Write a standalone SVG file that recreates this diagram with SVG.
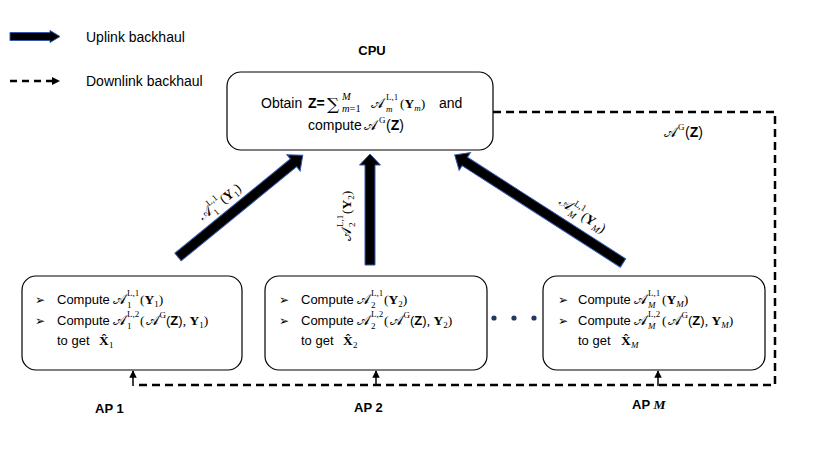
<svg xmlns="http://www.w3.org/2000/svg" width="830" height="467" viewBox="0 0 830 467">
<defs>
<style>
.s{font-family:"Liberation Sans",Arial,sans-serif;font-size:13px;fill:#000}
.c{font-size:14px}
.b{font-weight:bold}
.m{font-family:"Liberation Serif","DejaVu Serif",serif;font-size:13.5px;fill:#000}
.sc{font-family:"DejaVu Serif","DejaVu Sans","Noto Sans",serif;font-size:14px;fill:#000}
.sm{font-size:9px}
.lim{font-size:10.5px}
.i{font-style:italic}
.box{fill:#fff;stroke:#000;stroke-width:1.2}
.thick{fill:#000;stroke:#3558b0;stroke-width:1}
.dash{fill:none;stroke:#000;stroke-width:2.5;stroke-dasharray:8 5}
.up{stroke:#000;stroke-width:1.5;fill:none;marker-end:url(#tri)}
.bul{font-family:"DejaVu Sans",sans-serif;font-size:12px;fill:#000}
.lbl{font-family:"Liberation Sans",Arial,sans-serif;font-size:13px;font-weight:bold;fill:#000}
</style>
<marker id="tri" viewBox="0 0 10 10" refX="9" refY="5" markerWidth="5" markerHeight="5" orient="auto" markerUnits="strokeWidth">
<path d="M0,0 L10,5 L0,10 z" fill="#000"/>
</marker>
</defs>
<rect width="830" height="467" fill="#fff"/>

<g id="legend">
<polygon class="thick" points="10,32.5 50,32.5 50,30.5 60,36.5 50,42.5 50,40.5 10,40.5"/>
<text class="s c" x="86" y="42">Uplink backhaul</text>
<line x1="10" y1="81" x2="52" y2="81" stroke="#000" stroke-width="2.5" stroke-dasharray="7 5"/>
<polygon points="52,77 60,81 52,85" fill="#000"/>
<text class="s c" x="86" y="86">Downlink backhaul</text>
</g>

<g id="connectors">
<path class="dash" d="M493,112 H775 V385 H135"/>
<line class="up" x1="133" y1="386" x2="133" y2="371"/>
<line class="up" x1="376" y1="386" x2="376" y2="371"/>
<line class="up" x1="658" y1="386" x2="658" y2="371"/>
<polygon class="thick" transform="translate(178,257) rotate(-39.2)" points="0,-5 149,-5 149,-10.5 161,0 149,10.5 149,5 0,5"/>
<polygon class="thick" transform="translate(370,265) rotate(-90)" points="0,-5 100,-5 100,-10.5 111,0 100,10.5 100,5 0,5"/>
<polygon class="thick" transform="translate(623,263) rotate(-147.3)" points="0,-5 188,-5 188,-10.5 200,0 188,10.5 188,5 0,5"/>
<g id="label-up1" transform="translate(223,200) rotate(-39.2)">
<text class="sc" x="-29" y="4">𝒜</text>
<text class="m sm" x="-15" y="-4">L,1</text>
<text class="m sm" x="-15" y="8">1</text>
<text class="m" x="-2" y="4">(<tspan class="b">Y</tspan><tspan class="sm" dy="3">1</tspan><tspan dy="-3">)</tspan></text>
</g>
<g id="label-up2" transform="translate(351,212) rotate(-90)">
<text class="sc" x="-29" y="0">𝒜</text>
<text class="m sm" x="-15" y="-8">L,1</text>
<text class="m sm" x="-15" y="4">2</text>
<text class="m" x="-2" y="0">(<tspan class="b">Y</tspan><tspan class="sm" dy="3">2</tspan><tspan dy="-3">)</tspan></text>
</g>
<g id="label-upM" transform="translate(582,220) rotate(32.7)">
<text class="sc" x="-29" y="0">𝒜</text>
<text class="m sm" x="-15" y="-8">L,1</text>
<text class="m sm i" x="-15" y="4">M</text>
<text class="m" x="-2" y="0">(<tspan class="b">Y</tspan><tspan class="sm i" dy="3">M</tspan><tspan dy="-3">)</tspan></text>
</g>
<g id="label-down">
<text class="sc" x="664" y="137">𝒜</text>
<text class="m sm" x="678" y="130">G</text>
<text class="s c" x="685" y="137">(<tspan class="b">Z</tspan>)</text>
</g>
</g>

<g id="cpu">
<text class="lbl" x="372" y="55" text-anchor="middle">CPU</text>
<rect class="box" x="227" y="72" width="266" height="78" rx="14"/>
<text class="s c" x="261" y="108">Obtain</text>
<text class="s c b" x="308" y="108">Z=</text>
<text x="327" y="110" font-family="DejaVu Serif,serif" font-size="17">∑</text>
<text class="m lim i" x="342" y="100">M</text>
<text class="m lim" x="342" y="112"><tspan class="i">m</tspan>=1</text>
<text class="sc" x="371" y="108">𝒜</text>
<text class="m sm" x="386" y="100">L,1</text>
<text class="m sm i" x="386" y="112">m</text>
<text class="m" x="400" y="108">(<tspan class="b">Y</tspan><tspan class="sm i" dy="3">m</tspan><tspan dy="-3">)</tspan></text>
<text class="s c" x="439" y="108">and</text>
<text class="s c" x="308" y="130">compute</text>
<text class="sc" x="364" y="130">𝒜</text>
<text class="m sm" x="379" y="123">G</text>
<text class="s c" x="386" y="130">(<tspan class="b">Z</tspan>)</text>
</g>

<g id="ap1">
<rect class="box" x="22" y="276" width="220" height="94" rx="14"/>
<text class="bul" x="35" y="304">➢</text>
<text class="s" x="57" y="304">Compute</text>
<text class="sc" x="113" y="304">𝒜</text>
<text class="m sm" x="127" y="296">L,1</text>
<text class="m sm" x="127" y="308">1</text>
<text class="m" x="140" y="304">(<tspan class="b">Y</tspan><tspan class="sm" dy="3">1</tspan><tspan dy="-3">)</tspan></text>
<text class="bul" x="35" y="325">➢</text>
<text class="s" x="57" y="325">Compute</text>
<text class="sc" x="113" y="325">𝒜</text>
<text class="m sm" x="127" y="317">L,2</text>
<text class="m sm" x="127" y="329">1</text>
<text class="m" x="140" y="325">(<tspan class="sc" dx="1">𝒜</tspan><tspan class="sm" dx="1" dy="-7">G</tspan><tspan class="s" dy="7">(<tspan class="b">Z</tspan>)</tspan>, <tspan class="b">Y</tspan><tspan class="sm" dy="3">1</tspan><tspan dy="-3">)</tspan></text>
<text class="s" x="57" y="345">to get</text>
<text class="m b" x="99" y="345">X̂</text>
<text class="m sm" x="109" y="348">1</text>
<text class="lbl" x="95" y="413">AP 1</text>
</g>

<g id="ap2">
<rect class="box" x="265" y="276" width="222" height="94" rx="14"/>
<text class="bul" x="279" y="304">➢</text>
<text class="s" x="301" y="304">Compute</text>
<text class="sc" x="357" y="304">𝒜</text>
<text class="m sm" x="371" y="296">L,1</text>
<text class="m sm" x="371" y="308">2</text>
<text class="m" x="384" y="304">(<tspan class="b">Y</tspan><tspan class="sm" dy="3">2</tspan><tspan dy="-3">)</tspan></text>
<text class="bul" x="279" y="325">➢</text>
<text class="s" x="301" y="325">Compute</text>
<text class="sc" x="357" y="325">𝒜</text>
<text class="m sm" x="371" y="317">L,2</text>
<text class="m sm" x="371" y="329">2</text>
<text class="m" x="384" y="325">(<tspan class="sc" dx="1">𝒜</tspan><tspan class="sm" dx="1" dy="-7">G</tspan><tspan class="s" dy="7">(<tspan class="b">Z</tspan>)</tspan>, <tspan class="b">Y</tspan><tspan class="sm" dy="3">2</tspan><tspan dy="-3">)</tspan></text>
<text class="s" x="301" y="345">to get</text>
<text class="m b" x="343" y="345">X̂</text>
<text class="m sm" x="353" y="348">2</text>
<text class="lbl" x="354" y="412">AP 2</text>
</g>

<g id="dots" fill="#1f3864">
<circle cx="494" cy="318" r="2.6"/>
<circle cx="514" cy="318" r="2.6"/>
<circle cx="534" cy="318" r="2.6"/>
</g>

<g id="apM">
<rect class="box" x="543" y="276" width="222" height="94" rx="14"/>
<text class="bul" x="558" y="304">➢</text>
<text class="s" x="578" y="304">Compute</text>
<text class="sc" x="634" y="304">𝒜</text>
<text class="m sm" x="648" y="296">L,1</text>
<text class="m sm i" x="648" y="308">M</text>
<text class="m" x="662" y="304">(<tspan class="b">Y</tspan><tspan class="sm i" dy="3">M</tspan><tspan dy="-3">)</tspan></text>
<text class="bul" x="558" y="325">➢</text>
<text class="s" x="578" y="325">Compute</text>
<text class="sc" x="634" y="325">𝒜</text>
<text class="m sm" x="648" y="317">L,2</text>
<text class="m sm i" x="648" y="329">M</text>
<text class="m" x="662" y="325">(<tspan class="sc" dx="1">𝒜</tspan><tspan class="sm" dx="1" dy="-7">G</tspan><tspan class="s" dy="7">(<tspan class="b">Z</tspan>)</tspan>, <tspan class="b">Y</tspan><tspan class="sm i" dy="3">M</tspan><tspan dy="-3">)</tspan></text>
<text class="s" x="578" y="345">to get</text>
<text class="m b" x="621" y="345">X̂</text>
<text class="m sm i" x="631" y="348">M</text>
<text class="lbl" x="632" y="409">AP <tspan class="m i" font-size="14">M</tspan></text>
</g>
</svg>
